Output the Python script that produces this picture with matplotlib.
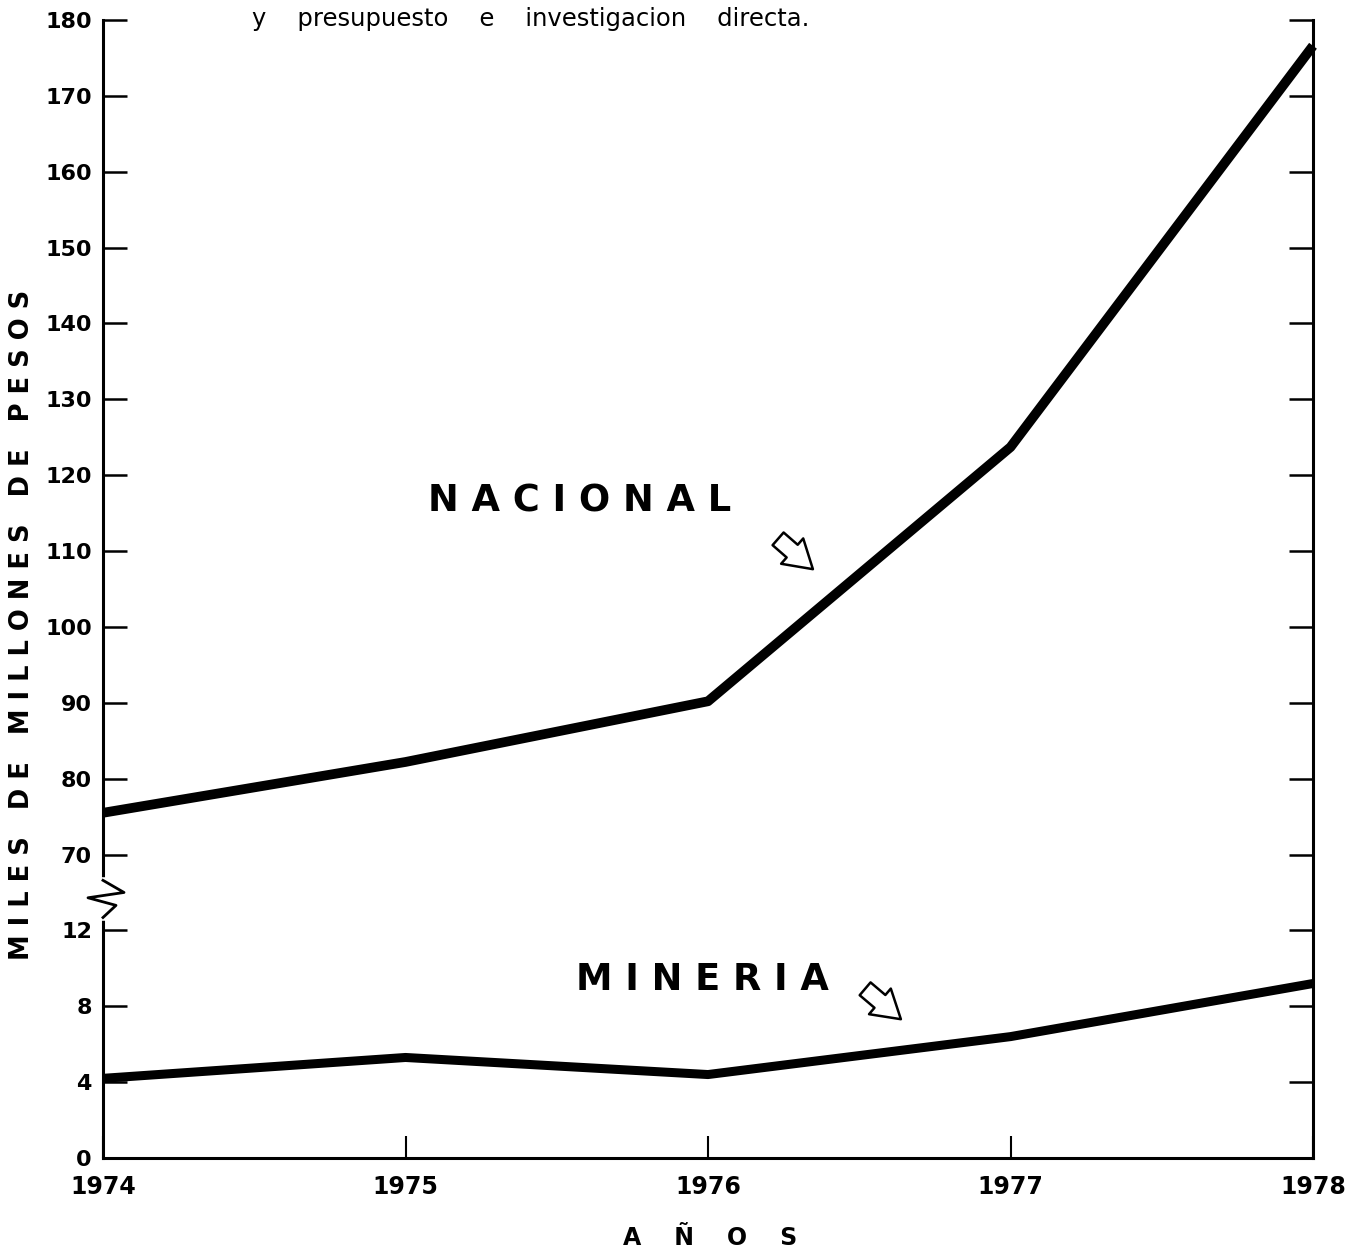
import numpy as np
import matplotlib
matplotlib.use('Agg')
import matplotlib.pyplot as plt
from matplotlib.patches import FancyArrowPatch

plt.rcParams.update({'font.family': ['DejaVu Sans'], 'font.weight': 'bold'})

# datos (miles de millones de pesos)
anios = [1974, 1975, 1976, 1977, 1978]
nacional = [75.5, 82.2, 90.2, 123.7, 176.6]
mineria = [4.2, 5.3, 4.4, 6.4, 9.2]

yticks = [0, 4, 8, 12, 70, 80, 90, 100, 110, 120, 130, 140, 150, 160, 170, 180]


# escala cortada: 0-12 abajo, 70-180 arriba
def adelante(v):
    v = np.asarray(v, dtype=float)
    return np.where(v <= 12, v / 4.0,
                    np.where(v < 70, 3 + (v - 12) / 58.0, 4 + (v - 70) / 10.0))


def atras(p):
    p = np.asarray(p, dtype=float)
    return np.where(p <= 3, 4.0 * p,
                    np.where(p < 4, 12 + (p - 3) * 58.0, 70 + (p - 4) * 10.0))


fig = plt.figure(figsize=(13.46, 12.5), dpi=100)
ax = fig.add_axes([103 / 1346, 1 - 1158 / 1250, 1210 / 1346, 1138 / 1250])

ax.plot(anios, nacional, color='black', lw=7, solid_capstyle='butt', clip_on=False)
ax.plot(anios, mineria, color='black', lw=6.5, solid_capstyle='butt', clip_on=False)

ax.set_yscale('function', functions=(adelante, atras))
ax.set_ylim(0, 180)
ax.set_xlim(1974, 1978)
ax.set_yticks(yticks)
ax.set_yticklabels([str(t) for t in yticks])
ax.set_xticks(anios)
ax.set_xticklabels([str(a) for a in anios])
ax.minorticks_off()

ax.spines['top'].set_visible(False)
for s in ['left', 'right', 'bottom']:
    ax.spines[s].set_linewidth(2.2)

ax.tick_params(axis='y', direction='in', length=17, width=1.8, right=True,
               labelsize=16, pad=8)
ax.tick_params(axis='x', direction='in', length=16, width=1.5,
               labelsize=17, pad=12)

# corte del eje (zigzag)
ax.plot([0, 0], [3.17 / 15, 3.66 / 15], transform=ax.transAxes, color='white',
        lw=4, clip_on=False, zorder=5)
zx = np.array([0, 21, -15, 13, 0]) / 1210.0
zy = np.array([3.66, 3.50, 3.43, 3.33, 3.17]) / 15.0
ax.plot(zx, zy, transform=ax.transAxes, color='black', lw=2, clip_on=False, zorder=6)

fig.text(710 / 1346, 1 - 1238 / 1250, 'A    Ñ    O    S', fontsize=17,
         ha='center', va='center')
fig.text(22 / 1346, 1 - 625 / 1250,
         'M I L E S   D E   M I L L O N E S   D E   P E S O S',
         rotation=90, fontsize=18.5, ha='center', va='center')

fig.text(428 / 1346, 1 - 501 / 1250, 'N A C I O N A L', fontsize=26.5,
         ha='left', va='center')
fig.text(576 / 1346, 1 - 979 / 1250, 'M I N E R I A', fontsize=26.5,
         ha='left', va='center')

flecha = dict(arrowstyle='simple,head_length=0.9,head_width=1.1,tail_width=0.55',
              fc='white', ec='black', lw=1.8)
fig.add_artist(FancyArrowPatch(
    (776 / 1346, 1 - 537 / 1250), (815 / 1346, 1 - 571 / 1250),
    transform=fig.transFigure, mutation_scale=22, **flecha))
fig.add_artist(FancyArrowPatch(
    (863 / 1346, 1 - 987 / 1250), (903 / 1346, 1 - 1021 / 1250),
    transform=fig.transFigure, mutation_scale=22, **flecha))

fig.text(252 / 1346, 1 - 19 / 1250, 'y    presupuesto    e    investigacion    directa.',
         fontsize=17.5, fontweight='normal', ha='left', va='center')

fig.savefig('out.png', dpi=100, facecolor='white')
